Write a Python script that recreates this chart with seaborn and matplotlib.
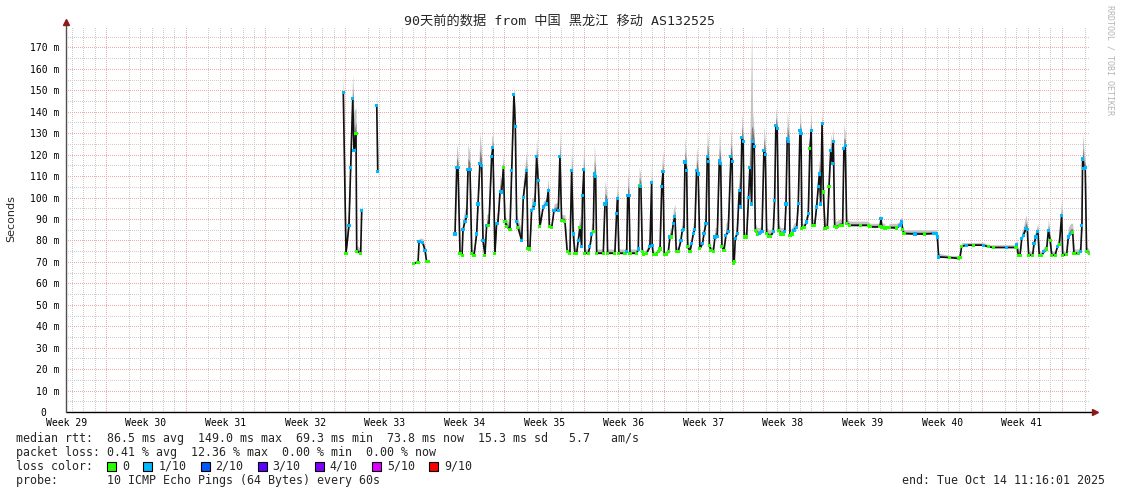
import numpy as np
import pandas as pd
import matplotlib
matplotlib.use('Agg')
import matplotlib.pyplot as plt
import seaborn as sns
from matplotlib.patches import Rectangle

nan = np.nan

# time in days since graph start (90 day window), median rtt in ms,
# top of the smoke (slowest ping) in ms, loss in tenths
t_day = [
    24.37, 24.61, 24.87, 25.02, 25.20, 25.31, 25.49, 25.55, 25.90, 25.99, nan,
    27.31, 27.40, nan,
    30.53, 30.94, 31.03, 31.35, 31.55, 31.70, 31.82, nan,
    34.19, 34.34, 34.45, 34.63, 34.81, 34.89, 35.07, 35.22, 35.33, 35.51,
    35.66, 35.86, 36.09, 36.21, 36.38, 36.53, 36.65, 36.82, 36.97, 37.17,
    37.41, 37.52, 37.70, 37.85, 37.96, 38.15, 38.29, 38.44, 38.58, 38.73,
    39.02, 39.17, 39.37, 39.49, 39.61, 39.72, 40.05, 40.19, 40.49, 40.60,
    40.77, 40.92, 41.06, 41.21, 41.36, 41.50, 41.65, 41.94, 42.25, 42.39,
    42.48, 42.69, 42.89, 43.27, 43.41, 43.56, 43.85, 44.05, 44.29, 44.44,
    44.58, 44.73, 44.88, 45.02, 45.17, 45.32, 45.40, 45.52, 45.61, 45.89,
    46.05, 46.20, 46.34, 46.43, 46.55, 46.64, 47.22, 47.37, 47.52, 47.60,
    48.24, 48.39, 48.48, 48.59, 49.13, 49.28, 49.37, 49.48, 49.57, 50.16,
    50.30, 50.38, 50.53, 50.65, 50.73, 51.03, 51.32, 51.47, 51.52, 51.61,
    51.91, 52.05, 52.21, 52.36, 52.47, 52.58, 52.80, 52.94, 53.08, 53.23,
    53.37, 53.52, 53.64, 53.81, 54.05, 54.16, 54.31, 54.40, 54.55, 54.64,
    54.84, 54.99, 55.13, 55.27, 55.42, 55.56, 55.71, 55.95, 56.07, 56.25,
    56.36, 56.49, 56.54, 56.69, 56.89, 57.04, 57.24, 57.42, 57.54, 57.65,
    57.83, 58.00, 58.20, 58.44, 58.55, 58.64, 58.73, 58.82, 58.99, 59.17,
    59.29, 59.40, 59.52, 59.61, 59.82, 59.99, 60.11, 60.26, 60.35, 60.49,
    60.58, 60.76, 60.99, 61.17, 61.34, 61.46, 61.58, 61.76, 61.93, 62.16,
    62.28, 62.39, 62.51, 62.63, 62.81, 63.03, 63.17, 63.28, 63.39, 63.54,
    63.63, 63.81, 63.98, 64.22, 64.36, 64.51, 64.60, 64.68, 64.86, 65.09,
    65.24, 65.38, 65.50, 65.59, 65.80, 65.97, 66.12, 66.21, 66.33, 66.45,
    66.56, 66.71, 66.91, 67.06, 67.21, 67.35, 67.44, 67.56, 67.73, 68.02,
    68.26, 68.37, 68.49, 68.61, 68.90, 69.79, 70.51, 70.66, 71.54, 71.63,
    71.71, 71.98, nan,
    72.33, 73.00, 73.30, 73.42, 73.54, 73.65, 74.62, 75.49, 76.23, 76.47,
    76.58, 76.70, 77.69, 78.42, 78.57, 78.72, 79.16, 79.75, 80.62, 81.06,
    81.50, 82.67, 83.50, 83.56, 83.70, 83.85, 84.00, 84.14, 84.37, 84.49,
    84.61, 84.96, 85.08, 85.25, 85.42, 85.54, 85.75, 85.95, 86.19, 86.34,
    86.49, 86.64, 86.93, 87.13, 87.30, 87.51, 87.60, 87.95, 88.09, 88.30,
    88.48, 88.59, 88.97, 89.18, 89.29, 89.35, 89.47, 89.58, 89.70, 89.93,
]

median = [
    149, 74, 87, 114, 146, 122, 130, 75, 74, 94, nan,
    143, 112, nan,
    69.4, 69.6, 79.3, 79, 75.4, 70, 70, nan,
    83, 114, 114, 74, 73, 85, 89, 91, 113, 113,
    74, 73, 83, 97, 116, 115, 80, 73, 87, 87,
    119, 123.5, 74, 88, 88, 103, 102.6, 114, 89, 86.5,
    85, 112.7, 148, 133, 89, 86, 80, 100, 112.7, 76.4,
    76, 94, 95, 97, 119, 108, 86.3, 95.6, 97, 103.4,
    86.3, 86, 94, 94, 119, 89.4, 89, 74.7, 74, 112.7,
    83, 74, 74, 80, 86, 77, 101, 113, 74, 74,
    77, 83, 84, 111, 110, 74, 74, 97, 98.7, 74,
    74, 92.5, 99.5, 74, 74, 75, 101, 101, 74, 74,
    76, 105.7, 105, 75, 73.5, 74, 77, 107, 77.8, 73.5,
    73.5, 75, 76, 105, 112, 73.5, 73.5, 75, 81.6, 81.6,
    88, 91, 74.7, 75, 80, 84.8, 85, 116.6, 112.7, 77,
    75, 78.6, 83.2, 85, 112.7, 111, 76.2, 78.6, 83.2, 87.9,
    119, 117, 77.8, 75.4, 75, 81.6, 82, 117.4, 116, 77,
    75.4, 82.4, 84, 119, 117, 69.3, 70, 80.9, 83.2, 103.4,
    95.6, 128, 126, 81.6, 81.6, 100, 114, 97, 126, 124,
    84.8, 83, 83.2, 84, 122, 120, 83.2, 82, 82, 84,
    98.7, 133.7, 132, 84.8, 83, 83, 84, 97, 127.5, 126,
    82.4, 83, 84.8, 86, 97.2, 131.3, 130, 85.5, 86, 88.6,
    92.5, 122.8, 131.3, 87, 87, 95.6, 105, 111, 97, 134.5,
    102.6, 85.5, 86, 105, 122, 115.8, 126, 86.3, 86, 87,
    87, 122.8, 124.4, 87.9, 87, 87, 87, 86.3, 86.3, 90.2,
    86, 85.8, nan,
    86, 85.8, 87, 88.6, 85, 83.2, 83, 83, 83.2, 83.2,
    81.6, 72.3, 72, 71.6, 72, 77.3, 77.8, 77.8, 77.8, 77,
    76.7, 76.7, 76.7, 78.2, 73.1, 73.1, 80.9, 82.4, 85.5, 85,
    73.1, 73.1, 78.6, 81.6, 84, 73.1, 73, 74.7, 76, 84.8,
    80, 73.1, 73, 77, 78, 91.8, 73.1, 73.5, 81.6, 83.2,
    83.5, 73.9, 73.9, 75, 87, 118, 113.5, 114, 74.7, 74,
]

smoke_top = [
    160, 80, 97, 130, 158, 140, 142, 78, 76, 100, nan,
    152, 125, nan,
    70.5, 70.5, 81, 81, 77, 71, 71, nan,
    90, 125, 120, 76, 75, 90, 95, 96, 125, 120,
    76, 75, 88, 105, 130, 122, 85, 75, 92, 93,
    128, 130, 77, 93, 92, 110, 108, 120, 92, 90,
    88, 120, 152, 140, 92, 90, 85, 108, 122, 78,
    78, 100, 100, 103, 128, 112, 88, 98, 100, 110,
    88, 88, 97, 98, 132, 92, 92, 76, 76, 127,
    90, 76, 76, 85, 92, 80, 110, 126, 76, 76,
    80, 88, 88, 125, 115, 76, 76, 108, 103, 76,
    76, 100, 108, 76, 76, 78, 112, 106, 76, 76,
    80, 114, 110, 78, 75, 76, 82, 118, 80, 75,
    75, 77, 78, 115, 122, 75, 75, 77, 86, 85,
    94, 97, 77, 77, 84, 90, 90, 128, 118, 80,
    77, 82, 88, 90, 124, 116, 78, 82, 88, 95,
    132, 122, 80, 77, 77, 86, 86, 130, 122, 79,
    77, 88, 90, 133, 122, 72, 72, 84, 88, 112,
    100, 140, 130, 84, 84, 108, 128, 178, 140, 130,
    88, 86, 86, 88, 134, 126, 86, 85, 85, 87,
    108, 142, 136, 88, 86, 86, 87, 104, 140, 132,
    85, 86, 88, 89, 104, 140, 134, 88, 88, 92,
    98, 132, 140, 90, 90, 100, 112, 118, 102, 143,
    108, 88, 88, 112, 130, 122, 134, 89, 89, 90,
    90, 134, 130, 90, 89, 89, 89, 88, 88, 92,
    88, 88, nan,
    88, 88, 89, 91, 87, 85, 85, 85, 85, 85,
    84, 74, 73, 73, 73, 79, 79, 79, 79, 78,
    78, 78, 78, 81, 75, 75, 84, 86, 92, 88,
    75, 75, 82, 85, 88, 75, 75, 77, 78, 90,
    84, 75, 75, 80, 82, 100, 75, 75, 86, 88,
    88, 76, 76, 78, 95, 130, 122, 118, 77, 76,
]

loss = [
    1, 0, 1, 1, 1, 1, 0, 0, 0, 1, nan,
    1, 1, nan,
    0, 0, 1, 1, 1, 0, 0, nan,
    1, 1, 1, 0, 0, 1, 1, 1, 1, 1,
    0, 0, 1, 1, 1, 1, 1, 0, 1, 0,
    1, 1, 0, 1, 1, 1, 1, 0, 0, 0,
    0, 1, 1, 1, 1, 0, 1, 1, 1, 0,
    0, 1, 1, 1, 1, 1, 0, 1, 1, 1,
    0, 0, 1, 1, 1, 0, 0, 0, 0, 1,
    1, 0, 0, 1, 0, 1, 1, 1, 0, 0,
    1, 1, 0, 1, 1, 0, 0, 1, 1, 0,
    0, 1, 1, 0, 0, 1, 1, 1, 0, 0,
    1, 0, 1, 0, 0, 0, 1, 1, 1, 0,
    0, 0, 0, 1, 1, 0, 0, 0, 1, 0,
    1, 1, 0, 0, 1, 1, 1, 1, 1, 0,
    0, 1, 1, 1, 1, 1, 0, 1, 1, 1,
    1, 1, 0, 0, 0, 1, 1, 1, 1, 0,
    0, 1, 1, 1, 1, 0, 0, 1, 1, 1,
    1, 1, 1, 0, 0, 1, 1, 1, 1, 1,
    0, 0, 1, 1, 1, 1, 0, 0, 0, 1,
    1, 1, 1, 0, 0, 0, 1, 1, 1, 1,
    0, 0, 1, 1, 1, 1, 1, 0, 0, 1,
    1, 0, 1, 0, 0, 1, 1, 1, 1, 1,
    0, 0, 0, 0, 1, 1, 1, 0, 0, 0,
    0, 1, 1, 0, 0, 0, 0, 0, 0, 1,
    0, 0, nan,
    0, 0, 1, 1, 0, 0, 1, 0, 1, 1,
    1, 1, 0, 0, 0, 0, 1, 0, 1, 0,
    0, 1, 0, 1, 0, 0, 1, 1, 1, 1,
    0, 0, 1, 1, 1, 0, 0, 1, 0, 1,
    0, 0, 0, 1, 0, 1, 0, 0, 1, 1,
    0, 0, 0, 1, 1, 1, 1, 1, 0, 0,
]

week_labels = ['Week %d' % w for w in range(29, 42)]
week_label_day = [0.02 + 7 * k for k in range(13)]
week_start_day = [3.52 + 7 * k for k in range(13)]

loss_names = ['0', '1/10', '2/10', '3/10', '4/10', '5/10', '9/10']
loss_colors = ['#26ff00', '#00b8ff', '#0059ff', '#5e00ff', '#7e00ff', '#dd00ff', '#ff0000']

title = '90天前的数据 from 中国 黑龙江 移动 AS132525'
rtt_line = 'median rtt:  86.5 ms avg  149.0 ms max  69.3 ms min  73.8 ms now  15.3 ms sd   5.7   am/s'
loss_line = 'packet loss: 0.41 % avg  12.36 % max  0.00 % min  0.00 % now'
probe_line = 'probe:       10 ICMP Echo Pings (64 Bytes) every 60s'
end_line = 'end: Tue Oct 14 11:16:01 2025'

assert len(t_day) == len(median) == len(smoke_top) == len(loss)

df = pd.DataFrame({'t': t_day, 'median': median, 'top': smoke_top, 'loss': loss})
df['seg'] = df['median'].isna().cumsum()
df = df.dropna().reset_index(drop=True)
df['loss'] = df['loss'].astype(int)

sns.set_style('white')
plt.rcParams['font.family'] = ['DejaVu Sans Mono', 'Noto Sans CJK SC']

W, H = 1121, 494
fig = plt.figure(figsize=(W / 100, H / 100), dpi=100)
fig.patch.set_facecolor('white')
ax = fig.add_axes([66 / W, 1 - 412 / H, 1024 / W, 386 / H])
ax.set_xlim(0, 90)
ax.set_ylim(0, 180)

# dotted rrd style grid, 1px on / 1px off
dot = (0, (1, 1.4))
red = '#f2a8a8'
grey = '#cdcdcd'
gkw = dict(lw=0.72, ls=dot, zorder=0, antialiased=False)
for d in range(90):
    if (d + 3) % 7 != 0:
        ax.axvline(0.52 + d, color=grey, **gkw)
for x in week_start_day:
    ax.axvline(x, color=red, **gkw)
for y in range(5, 180, 10):
    ax.axhline(y, color=grey, **gkw)
for y in range(10, 180, 10):
    ax.axhline(y, color=red, **gkw)

# smoke
for s, d in df.groupby('seg'):
    inner = d['median'] + (d['top'] - d['median']) * 0.45
    ax.fill_between(d['t'], d['median'], d['top'], color='#c4c4c4', lw=0, zorder=1)
    ax.fill_between(d['t'], d['median'], inner, color='#7a7a7a', lw=0, zorder=1)

sns.lineplot(data=df, x='t', y='median', units='seg', estimator=None, sort=False,
             color='#111111', lw=1.2, ax=ax, legend=False, zorder=2)
sns.scatterplot(data=df, x='t', y='median', hue='loss',
                palette={i: loss_colors[i] for i in range(2)}, marker='s', s=5,
                linewidth=0, legend=False, ax=ax, zorder=3)

ax.set_xlabel('')
ax.set_ylabel('')
for sp in ax.spines.values():
    sp.set_visible(False)

ax.set_yticks(range(0, 180, 10))
ax.set_yticklabels(['0  '] + ['%d m' % v for v in range(10, 180, 10)])
ax.set_yticks(range(5, 180, 10), minor=True)
ax.set_xticks(week_label_day)
ax.set_xticklabels(week_labels)
ax.set_xticks([0.52 + d for d in range(90)], minor=True)
ax.tick_params(axis='y', which='both', length=2, width=0.7, color='#404040',
               pad=3, labelsize=7, labelcolor='black')
ax.tick_params(axis='x', which='major', length=0, pad=4, labelsize=7, labelcolor='black')
ax.tick_params(axis='x', which='minor', length=2, width=0.7, color='#404040')

# axes with arrows
ax.plot([0, 1 + 4 / 1024], [0, 0], transform=ax.transAxes, color='black', lw=1,
        clip_on=False, zorder=4)
ax.plot([0, 0], [0, 1 + 3 / 386], transform=ax.transAxes, color='#505050', lw=1,
        clip_on=False, zorder=4)
ax.plot([1 + 5 / 1024], [0], marker='>', ms=4, color='#8b1a1a', transform=ax.transAxes,
        clip_on=False, zorder=5)
ax.plot([0], [1 + 4 / 386], marker='^', ms=4, color='#8b1a1a', transform=ax.transAxes,
        clip_on=False, zorder=5)

fig.text(560 / W, 1 - 21 / H, title, ha='center', va='center', size=9.5)
fig.text(11 / W, 1 - 219 / H, 'Seconds', rotation=90, ha='center', va='center',
         size=8, family='DejaVu Sans')
fig.text(1110 / W, 1 - 60 / H, 'RRDTOOL / TOBI OETIKER', rotation=270, ha='center',
         va='center', size=6, color='#b5b5b5')

fs = 8.4
cw = fs * 100 / 72 * 0.602
fig.text(16 / W, 1 - 438 / H, rtt_line, va='center', size=fs)
fig.text(16 / W, 1 - 452 / H, loss_line, va='center', size=fs)
fig.text(16 / W, 1 - 466 / H, 'loss color:', va='center', size=fs)
fig.text(16 / W, 1 - 480 / H, probe_line, va='center', size=fs)
fig.text(1105 / W, 1 - 480 / H, end_line, va='center', ha='right', size=fs)

x = 16 + 13 * cw
for name, c in zip(loss_names, loss_colors):
    fig.add_artist(Rectangle((x / W, 1 - 470.5 / H), 9 / W, 9 / H, transform=fig.transFigure,
                             facecolor=c, edgecolor='black', lw=0.8))
    fig.text((x + 15) / W, 1 - 466 / H, name, va='center', size=fs)
    x = x + 15 + (len(name) + 2) * cw

fig.savefig('out.png', dpi=100, facecolor='white')
